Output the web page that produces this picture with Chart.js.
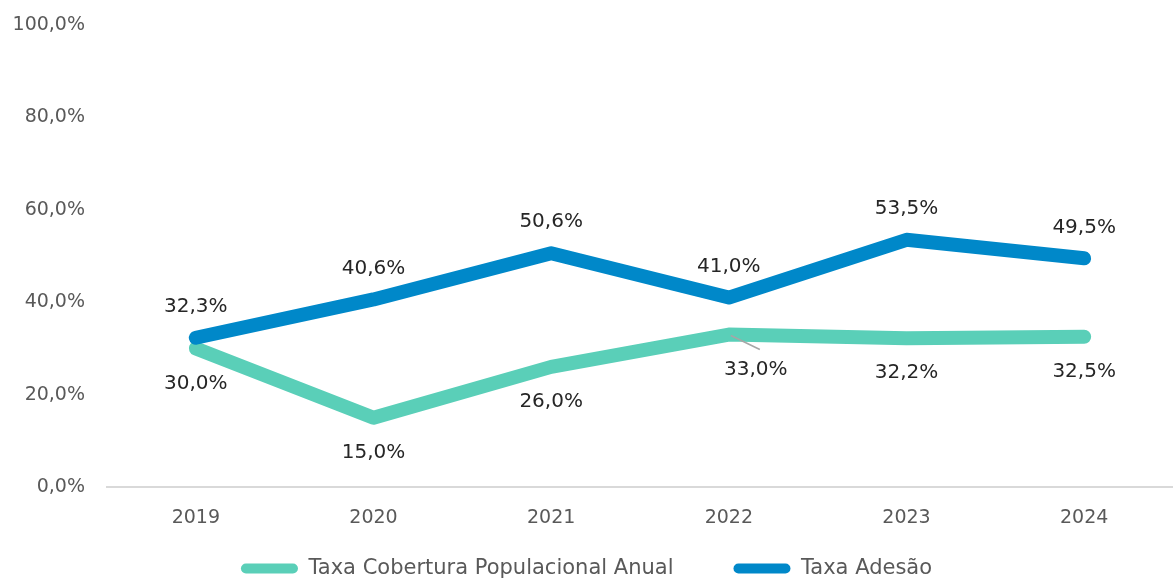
<!DOCTYPE html>
<html>
<head>
<meta charset="utf-8">
<script src="https://cdn.jsdelivr.net/npm/chart.js@4.4.0/dist/chart.umd.min.js"></script>
<style>
html,body{margin:0;padding:0;background:#fff;}
#wrap{width:1173px;height:582px;position:relative;}
</style>
</head>
<body>
<div id="wrap"><canvas id="c" width="1173" height="582"></canvas></div>
<script>
const categories = ['2019','2020','2021','2022','2023','2024'];
const coberturaValues = [30.0, 15.0, 26.0, 33.0, 32.2, 32.5];
const adesaoValues = [32.3, 40.6, 50.6, 41.0, 53.5, 49.5];
const seriesNames = ['Taxa Cobertura Populacional Anual', 'Taxa Adesão'];
const yTicks = [0, 20, 40, 60, 80, 100];

const FONT = "'DejaVu Sans', sans-serif";
const fmt = v => v.toFixed(1).replace('.', ',') + '%';

const LEGEND_H = 50;
const LEGEND_SHIFT = 34;

const labelPlugin = {
  id: 'valueLabels',
  afterInit(chart) {
    const lg = chart.legend;
    if (lg) {
      const origFit = lg.fit.bind(lg);
      lg.fit = function () { origFit(); this.height = LEGEND_H; };
      const origDraw = lg.draw.bind(lg);
      lg.draw = function () {
        const t = this.top;
        this.top = t - LEGEND_SHIFT;
        origDraw();
        this.top = t;
      };
    }
  },
  afterDatasetsDraw(chart) {
    const ctx = chart.ctx;
    ctx.save();
    ctx.font = "20px " + FONT;
    ctx.fillStyle = '#262626';
    ctx.textAlign = 'center';
    ctx.textBaseline = 'middle';
    chart.data.datasets.forEach((ds, di) => {
      const meta = chart.getDatasetMeta(di);
      meta.data.forEach((pt, i) => {
        const v = ds.data[i];
        let x = pt.x, y = pt.y;
        if (di === 1) {
          y = pt.y - 31;
        } else {
          y = pt.y + 35;
          if (i === 3) {
            ctx.strokeStyle = '#a6a6a6';
            ctx.lineWidth = 1.5;
            ctx.beginPath();
            ctx.moveTo(pt.x + 2, pt.y + 1);
            ctx.lineTo(pt.x + 31, pt.y + 15);
            ctx.stroke();
            x = pt.x + 27;
          }
        }
        ctx.fillText(fmt(v), x, y);
      });
    });
    ctx.restore();
  }
};

new Chart(document.getElementById('c'), {
  type: 'line',
  data: {
    labels: categories,
    datasets: [
      {
        label: seriesNames[0],
        data: coberturaValues,
        borderColor: '#5ACFB8',
        backgroundColor: '#5ACFB8',
        borderWidth: 14,
        pointRadius: 0,
        tension: 0,
        order: 1,
        borderJoinStyle: 'round',
        borderCapStyle: 'round'
      },
      {
        label: seriesNames[1],
        data: adesaoValues,
        borderColor: '#0088C9',
        backgroundColor: '#0088C9',
        borderWidth: 14,
        pointRadius: 0,
        tension: 0,
        order: 0,
        borderJoinStyle: 'round',
        borderCapStyle: 'round'
      }
    ]
  },
  options: {
    responsive: false,
    animation: false,
    devicePixelRatio: 1,
    layout: { padding: { top: 25, right: 0, left: 0, bottom: 0 } },
    plugins: {
      legend: {
        position: 'bottom',
        labels: {
          font: { family: FONT, size: 21 },
          color: '#595959',
          boxWidth: 57,
          boxHeight: 10,
          useBorderRadius: true,
          borderRadius: 5,
          padding: 60,
          sort: (a, b) => a.datasetIndex - b.datasetIndex,
          generateLabels(chart) {
            return Chart.defaults.plugins.legend.labels.generateLabels(chart)
              .map(l => Object.assign(l, { lineWidth: 0 }));
          }
        }
      },
      tooltip: { enabled: false }
    },
    scales: {
      x: {
        offset: true,
        afterFit(scale) { scale.height = 45; },
        grid: { display: false, drawTicks: false },
        border: { color: '#d9d9d9', width: 2 },
        ticks: {
          font: { family: FONT, size: 19 },
          color: '#595959',
          padding: 20
        }
      },
      y: {
        min: 0,
        max: 100,
        afterFit(scale) { scale.width = 107; scale.paddingTop = 0; scale.paddingBottom = 0; },
        grid: { display: false, drawTicks: false },
        border: { display: false },
        afterBuildTicks(scale) { scale.ticks = yTicks.map(v => ({ value: v })); },
        ticks: {
          font: { family: FONT, size: 19 },
          color: '#595959',
          padding: 22,
          callback: v => fmt(v)
        }
      }
    }
  },
  plugins: [labelPlugin]
});
</script>
</body>
</html>
